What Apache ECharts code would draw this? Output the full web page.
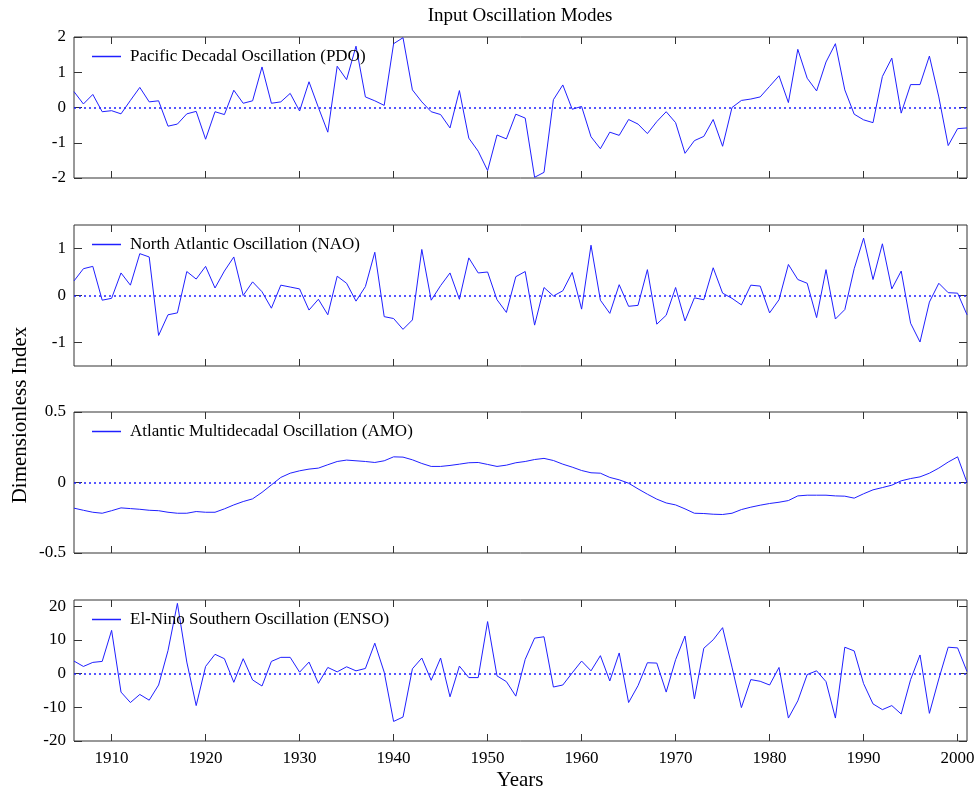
<!DOCTYPE html>
<html>
<head>
<meta charset="utf-8">
<script src="https://cdn.jsdelivr.net/npm/echarts@6/dist/echarts.min.js"></script>
<style>
  html, body { margin: 0; padding: 0; background: #fff; }
  #main { width: 979px; height: 793px; }
</style>
</head>
<body>
<div id="main"></div>
<script>
// annual values, 1906 - 2001
var startYear = 1906;
var pdo = [
  0.45, 0.1, 0.37, -0.12, -0.09, -0.18, 0.2, 0.57, 0.16, 0.19,
  -0.53, -0.47, -0.18, -0.11, -0.9, -0.12, -0.2, 0.49, 0.12, 0.19,
  1.15, 0.12, 0.16, 0.4, -0.1, 0.73, 0.0, -0.7, 1.17, 0.79,
  1.74, 0.3, 0.19, 0.06, 1.81, 1.98, 0.5, 0.16, -0.12, -0.2,
  -0.58, 0.48, -0.87, -1.24, -1.79, -0.78, -0.89, -0.19, -0.3, -1.98,
  -1.84, 0.22, 0.64, -0.05, 0.03, -0.83, -1.17, -0.7, -0.79, -0.34,
  -0.47, -0.74, -0.4, -0.12, -0.43, -1.3, -0.94, -0.82, -0.34, -1.1,
  0.0, 0.2, 0.24, 0.3, 0.6, 0.9, 0.14, 1.65, 0.83, 0.47,
  1.29, 1.81, 0.5, -0.19, -0.35, -0.43, 0.88, 1.4, -0.16, 0.65,
  0.65, 1.46, 0.3, -1.08, -0.6, -0.58
];
var nao = [
  0.31, 0.57, 0.62, -0.1, -0.06, 0.48, 0.22, 0.89, 0.82, -0.85,
  -0.41, -0.37, 0.51, 0.35, 0.62, 0.16, 0.52, 0.82, 0.0, 0.29,
  0.08, -0.27, 0.22, 0.18, 0.14, -0.31, -0.08, -0.41, 0.41, 0.26,
  -0.12, 0.19, 0.92, -0.45, -0.49, -0.72, -0.52, 0.98, -0.1, 0.21,
  0.48, -0.08, 0.8, 0.48, 0.5, -0.09, -0.36, 0.4, 0.51, -0.63,
  0.17, -0.01, 0.1, 0.49, -0.29, 1.07, -0.1, -0.38, 0.23, -0.23,
  -0.21, 0.55, -0.61, -0.42, 0.17, -0.54, -0.05, -0.09, 0.59, 0.05,
  -0.06, -0.2, 0.22, 0.2, -0.37, -0.09, 0.66, 0.34, 0.26, -0.47,
  0.55, -0.5, -0.3, 0.57, 1.22, 0.34, 1.1, 0.14, 0.52, -0.59,
  -0.99, -0.14, 0.26, 0.06, 0.05, -0.41
];
var amo = [
  -0.182, -0.197, -0.211, -0.218, -0.2, -0.18, -0.185, -0.19, -0.197, -0.2,
  -0.211, -0.218, -0.218, -0.206, -0.211, -0.211, -0.187, -0.159, -0.135, -0.116,
  -0.07, -0.017, 0.036, 0.066, 0.083, 0.095, 0.102, 0.126, 0.149, 0.159,
  0.154, 0.149, 0.142, 0.154, 0.182, 0.18, 0.161, 0.135, 0.114, 0.114,
  0.121, 0.13, 0.14, 0.142, 0.128, 0.114, 0.123, 0.14, 0.149, 0.163,
  0.171, 0.156, 0.13, 0.109, 0.085, 0.069, 0.066, 0.036, 0.019, -0.005,
  -0.045, -0.083, -0.118, -0.145, -0.159, -0.187, -0.218, -0.22, -0.225, -0.227,
  -0.218, -0.192, -0.175, -0.161, -0.149, -0.14, -0.128, -0.095, -0.09, -0.09,
  -0.09, -0.095, -0.097, -0.111, -0.08, -0.052, -0.036, -0.019, 0.012, 0.028,
  0.04, 0.066, 0.102, 0.145, 0.182, 0.0
];
var enso = [
  3.7, 2.1, 3.3, 3.6, 12.8, -5.5, -8.6, -6.2, -7.9, -3.4,
  6.8, 20.8, 3.4, -9.5, 2.1, 5.7, 4.4, -2.6, 4.4, -1.9,
  -3.7, 3.6, 4.8, 4.8, 0.4, 3.4, -2.9, 1.8, 0.5, 2.0,
  0.8, 1.5, 9.0, 0.4, -14.2, -12.9, 1.4, 4.6, -2.0, 4.6,
  -6.9, 2.2, -1.2, -1.2, 15.4, -0.7, -2.4, -6.7, 4.2, 10.5,
  10.9, -4.0, -3.4, 0.2, 3.7, 0.8, 5.3, -2.2, 6.1, -8.6,
  -3.6, 3.2, 3.1, -5.5, 4.1, 11.1, -7.5, 7.5, 10.0, 13.6,
  1.9, -10.1, -1.8, -2.3, -3.4, 1.8, -13.2, -8.1, -0.3, 0.8,
  -2.4, -13.2, 7.8, 6.7, -3.0, -9.0, -10.7, -9.5, -12.0, -1.8,
  5.5, -11.8, -1.6, 7.8, 7.6, 0.6
];

var names = [
  'Pacific Decadal Oscillation (PDO)',
  'North Atlantic Oscillation (NAO)',
  'Atlantic Multidecadal Oscillation (AMO)',
  'El-Nino Southern Oscillation (ENSO)'
];
var seriesValues = [pdo, nao, amo, enso];
var yMins = [-2, -1.5, -0.5, -20];
var yMaxs = [2, 1.5, 0.5, 21.8];
var yTicks = [[-2, -1, 0, 1, 2], [-1, 0, 1], [-0.5, 0, 0.5], [-20, -10, 0, 10, 20]];
var xTicks = [1910, 1920, 1930, 1940, 1950, 1960, 1970, 1980, 1990, 2000];

var font = 'Liberation Serif, Times New Roman, serif';
var lineColor = '#2020ff';
var frameColor = '#333';
var tops = [37, 225, 412, 600];
var panelH = 141;

var grids = [], xAxes = [], yAxes = [], series = [], legends = [];
tops.forEach(function (top, i) {
  grids.push({
    left: 74, right: 12, top: top, height: panelH,
    show: true, borderColor: frameColor, borderWidth: 1, backgroundColor: 'transparent'
  });
  ['bottom', 'top'].forEach(function (pos) {
    xAxes.push({
      gridIndex: i, type: 'value', position: pos, min: 1906, max: 2001,
      axisLine: { show: false, onZero: false },
      splitLine: { show: false },
      axisTick: { inside: true, length: 7, customValues: xTicks, lineStyle: { color: frameColor } },
      axisLabel: {
        show: pos === 'bottom' && i === 3, customValues: xTicks, margin: 9,
        formatter: function (v) { return String(v); },
        fontFamily: font, fontSize: 17, color: '#000'
      }
    });
  });
  ['left', 'right'].forEach(function (pos) {
    yAxes.push({
      gridIndex: i, type: 'value', position: pos, min: yMins[i], max: yMaxs[i],
      axisLine: { show: false },
      splitLine: { show: false },
      axisTick: { inside: true, length: 8, customValues: yTicks[i], lineStyle: { color: frameColor } },
      axisLabel: {
        show: pos === 'left', customValues: yTicks[i], margin: 8,
        fontFamily: font, fontSize: 17, color: '#000'
      }
    });
  });
  series.push({
    name: names[i], type: 'line', xAxisIndex: i * 2, yAxisIndex: i * 2,
    data: seriesValues[i].map(function (v, k) { return [startYear + k, v]; }),
    showSymbol: false, symbol: 'none',
    lineStyle: { color: lineColor, width: 1 }, itemStyle: { color: lineColor },
    markLine: {
      silent: true, symbol: ['none', 'none'], label: { show: false },
      lineStyle: { type: [2, 3], color: lineColor, width: 1.5 },
      data: [{ yAxis: 0 }]
    }
  });
  legends.push({
    data: [names[i]], left: 92, top: top + 11, padding: 0,
    icon: 'rect', itemWidth: 29, itemHeight: 1.5,
    textStyle: { fontFamily: font, fontSize: 17, color: '#000', padding: [0, 0, 0, 4] }
  });
});

var chart = echarts.init(document.getElementById('main'));
chart.setOption({
  animation: false,
  backgroundColor: '#fff',
  title: [
    { text: 'Input Oscillation Modes', left: 520, top: 7, textAlign: 'center', padding: 0,
      textStyle: { fontFamily: font, fontSize: 19, fontWeight: 'normal', color: '#000' } },
    { text: 'Years', left: 520, top: 770, textAlign: 'center', padding: 0,
      textStyle: { fontFamily: font, fontSize: 21, fontWeight: 'normal', color: '#000' } }
  ],
  graphic: [{
    type: 'text', x: 20, y: 415, rotation: Math.PI / 2,
    style: { text: 'Dimensionless Index', fontFamily: font, fontSize: 21, fill: '#000',
      align: 'center', verticalAlign: 'middle' }
  }],
  legend: legends,
  grid: grids,
  xAxis: xAxes,
  yAxis: yAxes,
  series: series
});
</script>
</body>
</html>
